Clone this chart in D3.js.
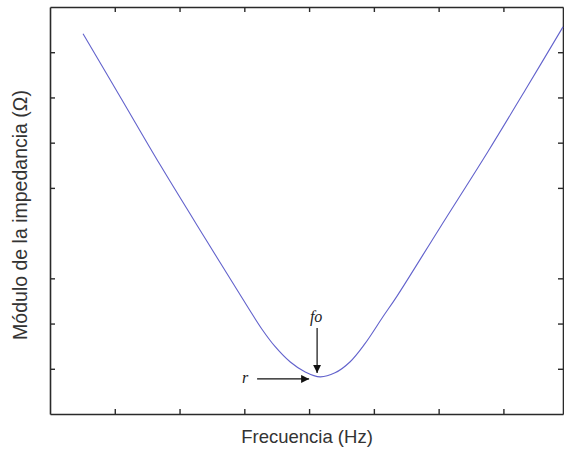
<!DOCTYPE html>
<html>
<head>
<meta charset="utf-8">
<script src="https://cdn.jsdelivr.net/npm/d3@7"></script>
<style>
  body { margin: 0; background: #fff; }
  svg { display: block; }
</style>
</head>
<body>
<div id="chart"></div>
<script>
// Frequency (tick units) and impedance modulus (tick units)
const freq = [0.51, 1.11, 1.70, 2.38, 3.06, 3.27, 3.47, 3.71, 3.94, 4.17, 4.40, 4.63, 4.86, 5.14, 5.35, 6.02, 6.76, 7.34, 7.92];
const imped = [8.41, 6.95, 5.51, 3.92, 2.35, 1.88, 1.50, 1.15, 0.93, 0.82, 0.91, 1.15, 1.55, 2.15, 2.59, 4.12, 5.80, 7.17, 8.56];
const xTicks = [1, 2, 3, 4, 5, 6, 7];
const yTicks = [1, 2, 3, 5, 6, 7, 8];

const width = 564, height = 449;
const margin = { top: 7, right: 1, bottom: 35, left: 50 };

const svg = d3.select("#chart")
    .append("svg")
    .attr("width", width)
    .attr("height", height);

const x = d3.scaleLinear().domain([0, 7.92]).range([margin.left, width - margin.right]);
const y = d3.scaleLinear().domain([0, 9]).range([height - margin.bottom, margin.top]);

const axisColor = "#2a2a2a";

// Axes on all four sides, ticks pointing inward
const axes = [
    { g: d3.axisBottom(x).tickValues(xTicks).tickSizeInner(-5), t: `translate(0,${y(0)})` },
    { g: d3.axisTop(x).tickValues(xTicks).tickSizeInner(-5), t: `translate(0,${y(9)})` },
    { g: d3.axisLeft(y).tickValues(yTicks).tickSizeInner(-5), t: `translate(${x(0)},0)` },
    { g: d3.axisRight(y).tickValues(yTicks).tickSizeInner(-5), t: `translate(${x(7.92)},0)` }
];
axes.forEach(a => {
    const g = svg.append("g")
        .attr("transform", a.t)
        .call(a.g.tickSizeOuter(0).tickFormat(""));
    g.select(".domain").attr("stroke", axisColor).attr("stroke-width", 1.6);
    g.selectAll(".tick line").attr("stroke", axisColor).attr("stroke-width", 1.4);
});

// Curve
const pts = freq.map((f, i) => [f, imped[i]]);
const line = d3.line()
    .x(d => x(d[0]))
    .y(d => y(d[1]))
    .curve(d3.curveCatmullRom.alpha(0.5));

svg.append("path")
    .datum(pts)
    .attr("d", line)
    .attr("fill", "none")
    .attr("stroke", "#6262cc")
    .attr("stroke-width", 1.1);

// Resonance annotations
const minPt = pts.reduce((a, b) => (b[1] < a[1] ? b : a));
const mx = x(minPt[0]), my = y(minPt[1]);

svg.append("defs").append("marker")
    .attr("id", "head")
    .attr("viewBox", "0 0 10 10")
    .attr("refX", 10).attr("refY", 5)
    .attr("markerWidth", 10).attr("markerHeight", 8)
    .attr("markerUnits", "userSpaceOnUse")
    .attr("orient", "auto")
    .append("path")
    .attr("d", "M0,0 L10,5 L0,10 Z")
    .attr("fill", "#111");

svg.append("line")
    .attr("x1", mx - 3).attr("y1", my - 49)
    .attr("x2", mx - 3).attr("y2", my - 4)
    .attr("stroke", "#111").attr("stroke-width", 1.2)
    .attr("marker-end", "url(#head)");

svg.append("line")
    .attr("x1", mx - 63).attr("y1", my + 2)
    .attr("x2", mx - 11).attr("y2", my + 2)
    .attr("stroke", "#111").attr("stroke-width", 1.2)
    .attr("marker-end", "url(#head)");

svg.append("text")
    .attr("x", mx - 4).attr("y", my - 55)
    .attr("text-anchor", "middle")
    .attr("font-family", "Liberation Serif, serif")
    .attr("font-style", "italic")
    .attr("font-size", 16)
    .attr("fill", "#222")
    .text("fo");

svg.append("text")
    .attr("x", mx - 75).attr("y", my + 6)
    .attr("text-anchor", "middle")
    .attr("font-family", "Liberation Serif, serif")
    .attr("font-style", "italic")
    .attr("font-size", 16)
    .attr("fill", "#222")
    .text("r");

// Axis titles
svg.append("text")
    .attr("x", 307).attr("y", 443)
    .attr("text-anchor", "middle")
    .attr("font-family", "Liberation Sans, Arial, sans-serif")
    .attr("font-size", 18.5)
    .attr("fill", "#333")
    .text("Frecuencia (Hz)");

svg.append("text")
    .attr("transform", "translate(27,215) rotate(-90)")
    .attr("text-anchor", "middle")
    .attr("font-family", "Liberation Sans, Arial, sans-serif")
    .attr("font-size", 19.5)
    .attr("fill", "#333")
    .text("Módulo de la impedancia (Ω)");
</script>
</body>
</html>
